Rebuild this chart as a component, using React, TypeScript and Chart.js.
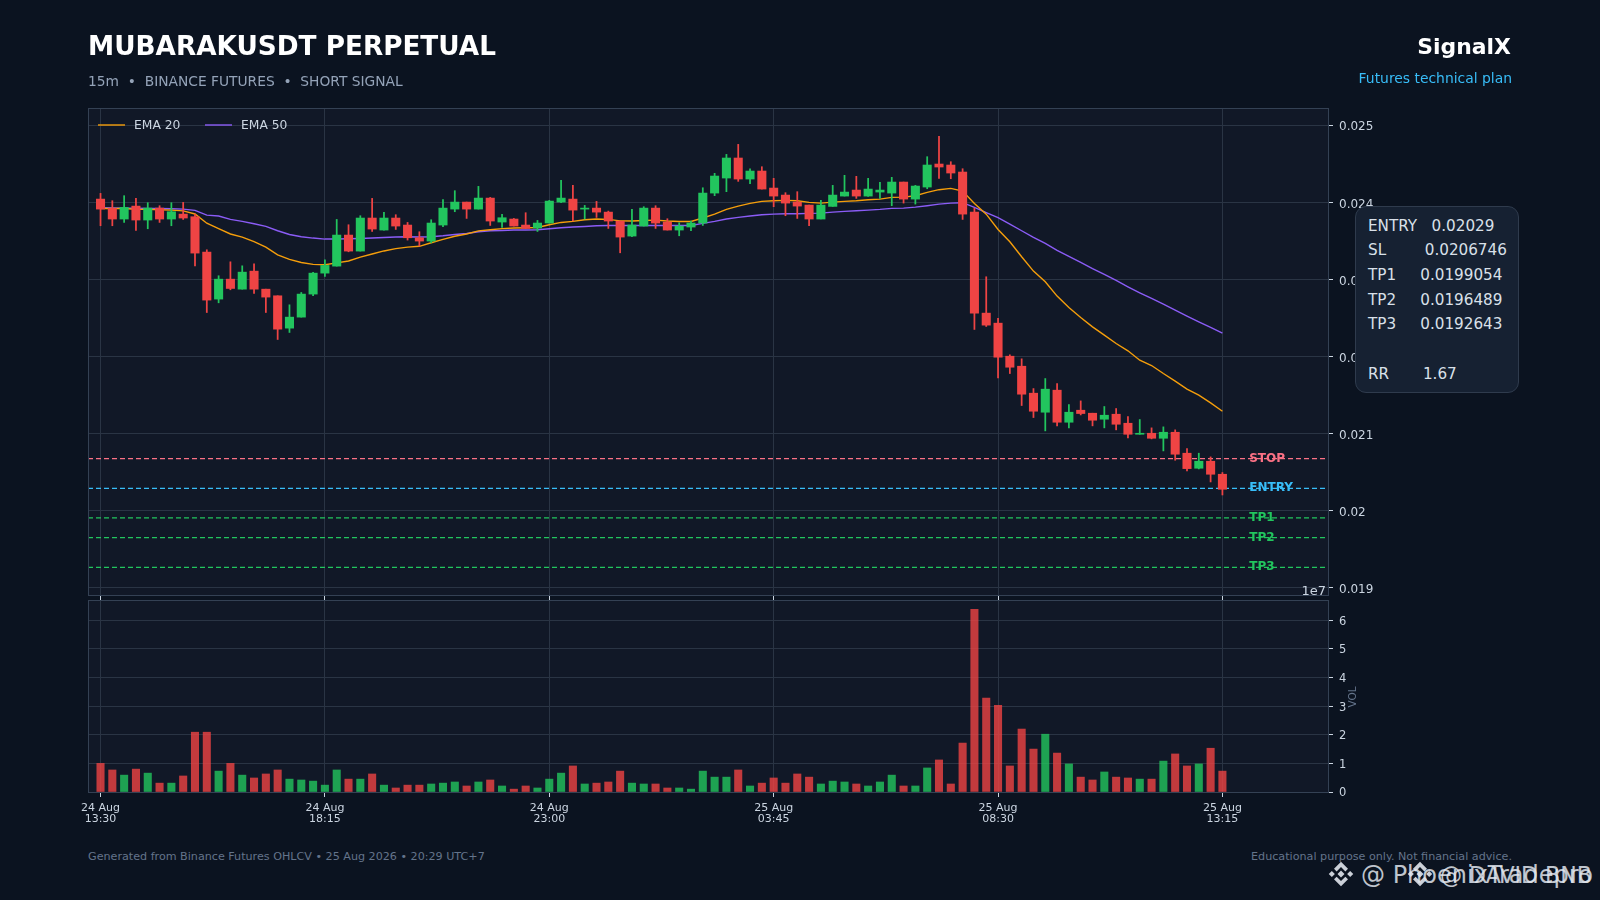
import React, { useEffect, useRef } from "react";
import { Chart, registerables } from "chart.js";

Chart.register(...registerables);

const opens = [0.024043,0.023922,0.023784,0.023952,0.023771,0.023926,0.023784,0.023848,0.023814,0.023355,0.022745,0.023004,0.022874,0.023108,0.022874,0.022788,0.022368,0.022511,0.02281,0.023082,0.023173,0.023576,0.023368,0.023797,0.023641,0.023797,0.023706,0.023541,0.023498,0.023706,0.023913,0.024004,0.023913,0.024056,0.023745,0.023784,0.023706,0.023667,0.023732,0.024004,0.024043,0.023913,0.023926,0.023874,0.023758,0.023563,0.023693,0.023926,0.023745,0.023641,0.02368,0.023732,0.024121,0.024316,0.024576,0.024303,0.024407,0.024186,0.024095,0.024004,0.023965,0.023784,0.023948,0.024082,0.02416,0.024082,0.024134,0.024121,0.024264,0.024043,0.024199,0.024498,0.024485,0.024394,0.023874,0.022563,0.022433,0.022004,0.021874,0.021524,0.021277,0.021563,0.021147,0.021303,0.021264,0.021186,0.021251,0.021134,0.020991,0.021004,0.020939,0.021017,0.020745,0.02055,0.020641,0.020472];
const closes = [0.023913,0.023784,0.023935,0.023771,0.023926,0.023784,0.023879,0.023797,0.023342,0.022732,0.023004,0.022883,0.023095,0.022874,0.022771,0.022355,0.022511,0.02281,0.023082,0.023182,0.023576,0.023368,0.023797,0.023654,0.023797,0.023693,0.023541,0.023498,0.023732,0.023926,0.024004,0.023913,0.024056,0.023758,0.023801,0.023693,0.023662,0.023732,0.024017,0.024056,0.0239,0.023926,0.023874,0.023758,0.02355,0.023706,0.023926,0.023732,0.023641,0.023693,0.023732,0.024121,0.024342,0.024576,0.024303,0.024407,0.024173,0.024082,0.023991,0.023952,0.023784,0.023965,0.024095,0.024134,0.024082,0.024173,0.02416,0.024264,0.024043,0.024212,0.024485,0.024459,0.024381,0.023848,0.022563,0.022407,0.021991,0.021861,0.021511,0.02129,0.021576,0.021147,0.021277,0.02126,0.021173,0.021238,0.021121,0.020991,0.021004,0.020939,0.021017,0.020732,0.020545,0.020641,0.020472,0.020277];
const highs = [0.024117,0.024022,0.024087,0.024052,0.023996,0.023957,0.023996,0.024,0.023848,0.023385,0.023048,0.023229,0.023177,0.023203,0.022874,0.022788,0.022671,0.022831,0.023091,0.023255,0.023779,0.02371,0.023827,0.024052,0.02387,0.02384,0.02374,0.023619,0.023775,0.024035,0.024152,0.024004,0.024208,0.024065,0.023844,0.023792,0.023866,0.023766,0.024026,0.024286,0.024221,0.023961,0.024013,0.023887,0.023758,0.023909,0.023944,0.023957,0.023788,0.023736,0.023758,0.02419,0.024377,0.024623,0.024753,0.024437,0.024463,0.024312,0.024126,0.024139,0.023965,0.024026,0.024221,0.024351,0.024338,0.024312,0.02426,0.024325,0.024264,0.024221,0.024593,0.024857,0.024528,0.024437,0.023926,0.023035,0.022494,0.022022,0.02197,0.021584,0.021714,0.021649,0.021377,0.021424,0.021264,0.021351,0.021325,0.021221,0.021182,0.021074,0.021087,0.021048,0.020805,0.020745,0.020697,0.020494];
const lows = [0.023697,0.023697,0.02374,0.023636,0.023658,0.02374,0.023697,0.023779,0.023177,0.022571,0.022697,0.022866,0.022874,0.022818,0.022571,0.022221,0.022312,0.022511,0.022788,0.023039,0.023173,0.023359,0.023368,0.023623,0.023641,0.023649,0.023511,0.023433,0.023476,0.023684,0.023879,0.023792,0.023913,0.023701,0.023675,0.023693,0.023662,0.023623,0.023732,0.023996,0.023758,0.023784,0.023805,0.023662,0.023346,0.023554,0.023693,0.023662,0.023641,0.023567,0.023632,0.023701,0.024087,0.024139,0.024273,0.024242,0.024173,0.023944,0.023827,0.023792,0.023697,0.023784,0.023948,0.024082,0.024052,0.024078,0.024052,0.023957,0.023991,0.023978,0.024177,0.024312,0.024307,0.023779,0.022351,0.02239,0.021723,0.021779,0.021364,0.021208,0.021035,0.0211,0.021074,0.021242,0.0211,0.021074,0.021048,0.020944,0.020991,0.020931,0.020775,0.020654,0.020515,0.020541,0.020372,0.020203];
const ema20 = [0.02392,0.02392,0.02392,0.02391,0.02391,0.023905,0.0239,0.02389,0.02385,0.02373,0.02366,0.02359,0.02355,0.02349,0.02342,0.02332,0.02326,0.02322,0.023195,0.02319,0.023215,0.02324,0.02329,0.02333,0.02337,0.0234,0.02342,0.02343,0.023476,0.02352,0.02356,0.02359,0.02363,0.023645,0.02366,0.023667,0.02367,0.023675,0.02371,0.02374,0.023753,0.023775,0.023784,0.02378,0.02376,0.023758,0.023766,0.02377,0.023758,0.023753,0.023753,0.023797,0.023848,0.02391,0.023952,0.023987,0.024013,0.024022,0.024026,0.024022,0.024,0.023991,0.024004,0.024013,0.024022,0.024035,0.024043,0.024065,0.024069,0.024087,0.02413,0.024165,0.024182,0.024147,0.023987,0.023848,0.023649,0.023489,0.023294,0.023108,0.02297,0.022784,0.022636,0.022506,0.022385,0.022277,0.022169,0.022074,0.021952,0.021883,0.021779,0.02168,0.021576,0.021498,0.021398,0.02129];
const ema50 = [0.02393,0.023928,0.023926,0.023924,0.023922,0.02392,0.023918,0.023913,0.023896,0.023835,0.023823,0.023779,0.023753,0.023723,0.023688,0.023632,0.023584,0.023554,0.023537,0.023524,0.023524,0.023528,0.023532,0.023537,0.023545,0.02355,0.023554,0.02355,0.023554,0.023567,0.023584,0.023597,0.023619,0.023632,0.023636,0.023641,0.023641,0.023645,0.023658,0.023671,0.02368,0.023688,0.023697,0.023701,0.023701,0.023701,0.023701,0.023701,0.023701,0.023701,0.023701,0.023727,0.023753,0.023784,0.023805,0.023823,0.02384,0.023848,0.023853,0.023853,0.023857,0.023861,0.023874,0.023883,0.023892,0.0239,0.023909,0.023922,0.023926,0.023939,0.023957,0.023978,0.023991,0.023996,0.023935,0.023866,0.023801,0.023719,0.023632,0.023545,0.023468,0.023377,0.023299,0.023221,0.023139,0.023065,0.022987,0.022905,0.022827,0.022753,0.02268,0.022602,0.022524,0.02245,0.022377,0.022303];
const volumes = [1,0.77,0.59,0.8,0.66,0.31,0.31,0.56,2.09,2.09,0.73,1,0.59,0.49,0.63,0.77,0.45,0.42,0.38,0.24,0.77,0.45,0.45,0.63,0.24,0.14,0.24,0.24,0.28,0.31,0.35,0.21,0.35,0.42,0.21,0.1,0.21,0.14,0.45,0.66,0.91,0.28,0.31,0.35,0.73,0.31,0.28,0.28,0.14,0.14,0.1,0.73,0.52,0.52,0.77,0.21,0.31,0.49,0.31,0.63,0.52,0.28,0.38,0.35,0.28,0.21,0.35,0.59,0.21,0.21,0.84,1.12,0.28,1.71,6.38,3.28,3.03,0.91,2.2,1.5,2.02,1.36,0.98,0.52,0.42,0.7,0.52,0.49,0.45,0.45,1.08,1.33,0.91,0.98,1.53,0.73];
const tickIndexes = [0, 19, 38, 57, 76, 95];
const tickDates = ["24 Aug", "24 Aug", "24 Aug", "25 Aug", "25 Aug", "25 Aug"];
const tickTimes = ["13:30", "18:15", "23:00", "03:45", "08:30", "13:15"];
const priceTicks = [0.019, 0.02, 0.021, 0.022, 0.023, 0.024, 0.025];
const volumeTicks = [0, 1, 2, 3, 4, 5, 6];
const levelNames = ["STOP", "ENTRY", "TP1", "TP2", "TP3"];
const levelValues = [0.0206746, 0.02029, 0.0199054, 0.0196489, 0.0192643];
const levelColors = ["#fb7185", "#38bdf8", "#22c55e", "#22c55e", "#22c55e"];
const planRows = ["ENTRY   0.02029", "SL        0.0206746", "TP1     0.0199054", "TP2     0.0196489", "TP3     0.0192643", " ", "RR       1.67"];
const emaNames = ["EMA 20", "EMA 50"];
const emaColors = ["#f59e0b", "#8b5cf6"];

const FONT = "'DejaVu Sans', sans-serif";
const PAGE = "#0b1320";
const PANEL = "#111827";
const GRID = "#2a3444";
const BORDER = "#344154";
const TEXT = "#cbd5e1";
const UP = "#22c55e";
const DOWN = "#ef4444";
const UP_VOL = "rgba(34,197,94,0.8)";
const DOWN_VOL = "rgba(239,68,68,0.8)";
const X_MIN = -1.06;
const X_MAX = 103.94;

const isUp = (i: number) => closes[i] >= opens[i];
const idx = opens.map((_, i) => i);

const panelPlugin = {
  id: "panel",
  beforeDraw(c: any) {
    const a = c.chartArea;
    c.ctx.save();
    c.ctx.fillStyle = PANEL;
    c.ctx.fillRect(a.left, a.top, a.width, a.height);
    c.ctx.restore();
  },
  afterDraw(c: any) {
    const a = c.chartArea;
    c.ctx.save();
    c.ctx.strokeStyle = BORDER;
    c.ctx.lineWidth = 1;
    c.ctx.strokeRect(Math.round(a.left) + 0.5, Math.round(a.top) + 0.5, Math.round(a.width), Math.round(a.height));
    c.ctx.restore();
  },
};

const levelLabelPlugin = {
  id: "levelLabels",
  afterDatasetsDraw(c: any) {
    const ctx = c.ctx;
    ctx.save();
    ctx.font = `bold 12px ${FONT}`;
    ctx.textAlign = "left";
    ctx.textBaseline = "middle";
    levelNames.forEach((name, i) => {
      ctx.fillStyle = levelColors[i];
      ctx.fillText(name, c.scales.x.getPixelForValue(97.27), c.scales.y.getPixelForValue(levelValues[i]));
    });
    ctx.restore();
  },
};

const emaLegendPlugin = {
  id: "emaLegend",
  afterDraw(c: any) {
    const ctx = c.ctx;
    const a = c.chartArea;
    ctx.save();
    ctx.font = `12.3px ${FONT}`;
    ctx.textAlign = "left";
    ctx.textBaseline = "middle";
    emaNames.forEach((name, i) => {
      const left = a.left + 10 + i * 107;
      const y = a.top + 17;
      ctx.strokeStyle = emaColors[i];
      ctx.lineWidth = 1.4;
      ctx.beginPath();
      ctx.moveTo(left, y);
      ctx.lineTo(left + 27, y);
      ctx.stroke();
      ctx.fillStyle = TEXT;
      ctx.fillText(name, left + 36, y + 1);
    });
    ctx.restore();
  },
};

const volAxisPlugin = {
  id: "volAxis",
  afterDraw(c: any) {
    const ctx = c.ctx;
    ctx.save();
    ctx.translate(1353, c.chartArea.top + 97);
    ctx.rotate(-Math.PI / 2);
    ctx.font = `10.5px ${FONT}`;
    ctx.fillStyle = "#64748b";
    ctx.textAlign = "center";
    ctx.textBaseline = "middle";
    ctx.fillText("VOL", 0, 0);
    ctx.restore();
    ctx.save();
    ctx.font = `13px ${FONT}`;
    ctx.fillStyle = TEXT;
    ctx.textAlign = "right";
    ctx.textBaseline = "middle";
    ctx.fillText("1e7", 1326, c.chartArea.top - 8);
    ctx.restore();
  },
};

const xAxis = (labels: boolean, height: number) => ({
  type: "linear",
  min: X_MIN,
  max: X_MAX,
  offset: false,
  afterBuildTicks: (s: any) => {
    s.ticks = tickIndexes.map((value) => ({ value }));
  },
  afterFit: (s: any) => {
    s.height = height;
  },
  grid: { color: GRID, lineWidth: 1, tickColor: TEXT, tickLength: 5, offset: false },
  border: { color: BORDER },
  ticks: {
    display: labels,
    autoSkip: false,
    maxRotation: 0,
    color: TEXT,
    padding: 5,
    font: { family: FONT, size: 11, lineHeight: 1.05 },
    callback: (v: number) => {
      const i = tickIndexes.indexOf(v);
      return i < 0 ? "" : [tickDates[i], tickTimes[i]];
    },
  },
});

const yGrid = { color: GRID, lineWidth: 1, tickColor: TEXT, tickLength: 5 };

export default function App() {
  const priceRef = useRef<HTMLCanvasElement>(null);
  const volRef = useRef<HTMLCanvasElement>(null);

  useEffect(() => {
    const price = new Chart(priceRef.current as HTMLCanvasElement, {
      type: "bar",
      plugins: [panelPlugin, levelLabelPlugin, emaLegendPlugin],
      data: {
        datasets: [
          {
            label: "bodies",
            order: 1,
            grouped: false,
            barThickness: 8.4,
            data: idx.map((i) => ({ x: i, y: [opens[i], closes[i]] })),
            backgroundColor: idx.map((i) => (isUp(i) ? UP : DOWN)),
            borderWidth: 0,
          },
          {
            label: "wicks",
            order: 2,
            grouped: false,
            barThickness: 1.1,
            data: idx.map((i) => ({ x: i, y: [lows[i], highs[i]] })),
            backgroundColor: idx.map((i) => (isUp(i) ? UP : DOWN)),
            borderWidth: 0,
          },
          {
            type: "line",
            label: emaNames[0],
            order: 3,
            data: idx.map((i) => ({ x: i, y: ema20[i] })),
            borderColor: emaColors[0],
            borderWidth: 1.4,
            pointRadius: 0,
          },
          {
            type: "line",
            label: emaNames[1],
            order: 4,
            data: idx.map((i) => ({ x: i, y: ema50[i] })),
            borderColor: emaColors[1],
            borderWidth: 1.4,
            pointRadius: 0,
          },
          ...levelNames.map((name, i) => ({
            type: "line",
            label: name,
            order: 5,
            data: [
              { x: X_MIN, y: levelValues[i] },
              { x: X_MAX, y: levelValues[i] },
            ],
            borderColor: levelColors[i],
            borderWidth: 1.2,
            borderDash: [5, 3],
            pointRadius: 0,
          })),
        ],
      } as any,
      options: {
        responsive: false,
        animation: false,
        parsing: { xAxisKey: "x", yAxisKey: "y" },
        layout: { autoPadding: false, padding: { left: 88, top: 108, right: 0, bottom: 0 } },
        plugins: { tooltip: { enabled: false }, legend: { display: false } },
        scales: {
          x: xAxis(false, 25),
          y: {
            position: "right",
            min: 0.018905,
            max: 0.025225,
            afterBuildTicks: (s: any) => {
              s.ticks = priceTicks.map((value) => ({ value }));
            },
            afterFit: (s: any) => {
              s.width = 272;
            },
            grid: yGrid,
            border: { color: BORDER },
            ticks: {
              color: TEXT,
              padding: 6,
              labelOffset: 2,
              font: { family: FONT, size: 12 },
              callback: (v: number) => String(Number(v.toFixed(3))),
            },
          },
        },
      } as any,
    });

    const vol = new Chart(volRef.current as HTMLCanvasElement, {
      type: "bar",
      plugins: [panelPlugin, volAxisPlugin],
      data: {
        datasets: [
          {
            label: "VOL",
            barThickness: 7.4,
            data: idx.map((i) => ({ x: i, y: volumes[i] })),
            backgroundColor: idx.map((i) => (isUp(i) ? UP_VOL : DOWN_VOL)),
            borderWidth: 0,
          },
        ],
      } as any,
      options: {
        responsive: false,
        animation: false,
        layout: { autoPadding: false, padding: { left: 88, top: 15, right: 0, bottom: 0 } },
        plugins: { legend: { display: false }, tooltip: { enabled: false } },
        scales: {
          x: xAxis(true, 38),
          y: {
            position: "right",
            min: 0,
            max: 6.71,
            afterBuildTicks: (s: any) => {
              s.ticks = volumeTicks.map((value) => ({ value }));
            },
            afterFit: (s: any) => {
              s.width = 272;
            },
            grid: yGrid,
            border: { color: BORDER },
            ticks: {
              color: TEXT,
              padding: 6,
              labelOffset: 1.5,
              font: { family: FONT, size: 11.5 },
              callback: (v: number) => String(v),
            },
          },
        },
      } as any,
    });

    return () => {
      price.destroy();
      vol.destroy();
    };
  }, []);

  const abs = (style: React.CSSProperties): React.CSSProperties => ({
    position: "absolute",
    whiteSpace: "pre",
    lineHeight: 1,
    fontFamily: FONT,
    ...style,
  });

  const logo = (cx: number) => (
    <svg
      width="28"
      height="28"
      viewBox="0 0 32 32"
      style={{ position: "absolute", left: cx - 14, top: 860 }}
    >
      <path
        fill="#cbd0d8"
        d="M16 2 L24 10 L21 13 L16 8 L11 13 L8 10 Z M16 30 L8 22 L11 19 L16 24 L21 19 L24 22 Z M2 16 L5.5 12.5 L9 16 L5.5 19.5 Z M23 16 L26.5 12.5 L30 16 L26.5 19.5 Z M16 12 L20 16 L16 20 L12 16 Z"
      />
    </svg>
  );

  return (
    <div style={{ position: "absolute", left: 0, top: 0, width: 1600, height: 900, background: PAGE, overflow: "hidden" }}>
      <style>{`html,body{margin:0;background:${PAGE};}`}</style>
      <canvas ref={priceRef} width={1600} height={620} style={{ position: "absolute", left: 0, top: 0 }} />
      <canvas ref={volRef} width={1600} height={245} style={{ position: "absolute", left: 0, top: 585 }} />

      <div style={abs({ left: 88, top: 33, fontSize: 26.3, fontWeight: 700, color: "#ffffff" })}>MUBARAKUSDT PERPETUAL</div>
      <div style={abs({ left: 88, top: 75, fontSize: 13.8, color: "#94a3b8" })}>15m  •  BINANCE FUTURES  •  SHORT SIGNAL</div>
      <div style={abs({ right: 89, top: 36, fontSize: 21.9, fontWeight: 700, color: "#ffffff" })}>SignalX</div>
      <div style={abs({ right: 88, top: 72, fontSize: 13.9, color: "#38bdf8" })}>Futures technical plan</div>

      <div
        style={{
          position: "absolute",
          left: 1355,
          top: 206,
          width: 164,
          height: 187,
          boxSizing: "border-box",
          background: "#162132",
          border: "1px solid #2f3b4d",
          borderRadius: 11,
        }}
      />
      {planRows.map((row, i) => (
        <div key={i} style={abs({ left: 1368, top: 218.6 + i * 24.7, fontSize: 15.2, color: "#d9e0e9" })}>
          {row}
        </div>
      ))}

      <div style={abs({ left: 88, top: 851, fontSize: 11.15, color: "#64748b" })}>
        Generated from Binance Futures OHLCV • 25 Aug 2026 • 20:29 UTC+7
      </div>
      <div style={abs({ right: 88, top: 851, fontSize: 11.17, color: "#64748b" })}>
        Educational purpose only. Not financial advice.
      </div>

      {logo(1341)}
      {logo(1420)}
      <div style={abs({ left: 1361, top: 863, fontSize: 24, color: "rgba(225,230,238,0.85)" })}>@ PhoenixTradepro</div>
      <div style={abs({ left: 1440, top: 864, fontSize: 22.1, color: "rgba(225,230,238,0.85)" })}>@ DAVID BNB</div>
    </div>
  );
}
